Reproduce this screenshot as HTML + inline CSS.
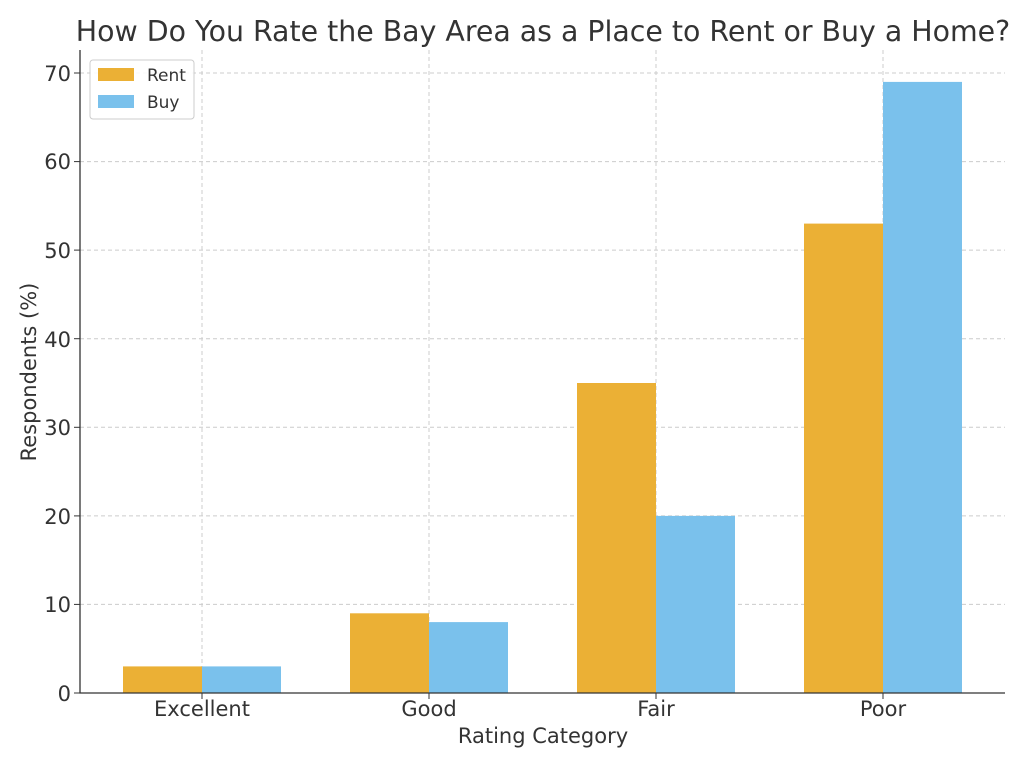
<!DOCTYPE html>
<html><head><style>body{margin:0;background:#fff}</style></head><body>
<svg width="1024" height="768" xmlns="http://www.w3.org/2000/svg" font-family="DejaVu Sans, Liberation Sans, sans-serif" fill="#333">
<rect width="1024" height="768" fill="#fff"/>
<g stroke="#ccc" stroke-dasharray="4,3" stroke-width="1">
<line x1="80" x2="1005" y1="604.4" y2="604.4"/><line x1="80" x2="1005" y1="515.9" y2="515.9"/>
<line x1="80" x2="1005" y1="427.3" y2="427.3"/><line x1="80" x2="1005" y1="338.7" y2="338.7"/>
<line x1="80" x2="1005" y1="250.1" y2="250.1"/><line x1="80" x2="1005" y1="161.6" y2="161.6"/>
<line x1="80" x2="1005" y1="73" y2="73"/>
<line x1="202" x2="202" y1="50" y2="693"/><line x1="429" x2="429" y1="50" y2="693"/>
<line x1="656" x2="656" y1="50" y2="693"/><line x1="883" x2="883" y1="50" y2="693"/>
</g>
<g fill="#EBB035">
<rect x="123" y="666.4" width="79" height="26.6"/><rect x="350" y="613.3" width="79" height="79.7"/>
<rect x="577" y="383" width="79" height="310"/><rect x="804" y="223.6" width="79" height="469.4"/>
</g>
<g fill="#7AC1EC">
<rect x="202" y="666.4" width="79" height="26.6"/><rect x="429" y="622.1" width="79" height="70.9"/>
<rect x="656" y="515.9" width="79" height="177.1"/><rect x="883" y="81.9" width="79" height="611.1"/>
</g>
<path d="M80 50V693H1005" fill="none" stroke="#333" stroke-width="1.3"/>
<g stroke="#333"><line x1="74" x2="80" y1="693" y2="693"/><line x1="74" x2="80" y1="604.4" y2="604.4"/><line x1="74" x2="80" y1="515.9" y2="515.9"/><line x1="74" x2="80" y1="427.3" y2="427.3"/><line x1="74" x2="80" y1="338.7" y2="338.7"/><line x1="74" x2="80" y1="250.1" y2="250.1"/><line x1="74" x2="80" y1="161.6" y2="161.6"/><line x1="74" x2="80" y1="73" y2="73"/>
<line x1="202" x2="202" y1="693" y2="699"/><line x1="429" x2="429" y1="693" y2="699"/><line x1="656" x2="656" y1="693" y2="699"/><line x1="883" x2="883" y1="693" y2="699"/></g>
<g font-size="21" text-anchor="end">
<text x="71" y="701">0</text><text x="71" y="612">10</text><text x="71" y="524">20</text><text x="71" y="435">30</text><text x="71" y="347">40</text><text x="71" y="258">50</text><text x="71" y="169">60</text><text x="71" y="81">70</text></g>
<g font-size="21" text-anchor="middle">
<text x="202" y="716">Excellent</text><text x="429" y="716">Good</text><text x="656" y="716">Fair</text><text x="883" y="716">Poor</text>
<text x="543" y="743">Rating Category</text>
<text transform="translate(36,372) rotate(-90)">Respondents (%)</text>
<text x="543" y="41" font-size="28.4">How Do You Rate the Bay Area as a Place to Rent or Buy a Home?</text></g>
<rect x="90" y="60" width="104" height="59" rx="3" fill="#fff" fill-opacity="0.85" stroke="#ccc"/>
<rect x="98" y="68" width="36" height="13" fill="#EBB035"/><rect x="98" y="95" width="36" height="13" fill="#7AC1EC"/>
<text x="147" y="81" font-size="17">Rent</text><text x="147" y="108" font-size="17">Buy</text>
</svg>
</body></html>
